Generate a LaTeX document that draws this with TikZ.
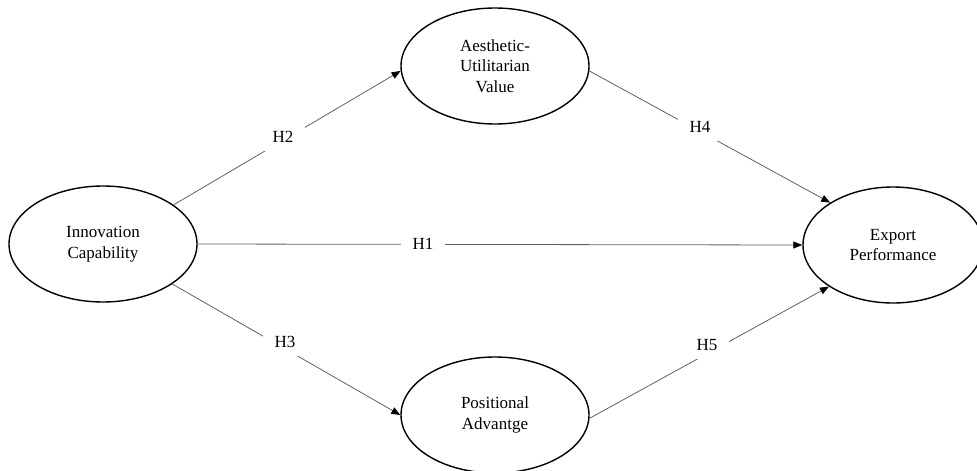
\documentclass[tikz,border=0pt]{standalone}
\usepackage{fontspec}
\setmainfont{Liberation Serif}
\usetikzlibrary{shapes.geometric,arrows.meta}
\begin{document}
\begin{tikzpicture}[x=1pt,y=-1pt,
  construct/.style={draw=black, line width=1.4pt, ellipse, minimum width=188pt, minimum height=116pt, inner sep=0pt, align=center, font=\fontsize{17}{20.5}\selectfont},
  path/.style={draw=black!62, line width=0.8pt, -{Triangle[length=9pt,width=7pt,fill=black,color=black]}},
  lbl/.style={fill=white, inner xsep=12pt, inner ysep=8pt, font=\fontsize{17}{20.5}\selectfont}]
\useasboundingbox (0,0) rectangle (977,471);
\clip (0,0) rectangle (977,471);
\fill[white] (0,0) rectangle (977,471);
\node[construct] (ic) at (103,244) {Innovation\\Capability};
\node[construct] (auv) at (495,66) {Aesthetic-\\Utilitarian\\Value};
\node[construct] (pa) at (495,415) {Positional\\Advantge};
\node[construct, minimum width=180pt] (ep) at (893,245) {Export\\Performance};
\draw[path] (ic.east) -- (ep.west);
\draw[path] (ic.29.5) -- (auv.183);
\draw[path] (ic.330.5) -- (pa.180);
\draw[path] (auv.357) -- (ep.146);
\draw[path] (pa.358) -- (ep.213);
\node[lbl] (h1) at (423,244) {H1};
\node[lbl] (h2) at (283,137) {H2};
\node[lbl] (h3) at (285,342) {H3};
\node[lbl] (h4) at (700,127) {H4};
\node[lbl] (h5) at (707,345) {H5};
\end{tikzpicture}
\end{document}
